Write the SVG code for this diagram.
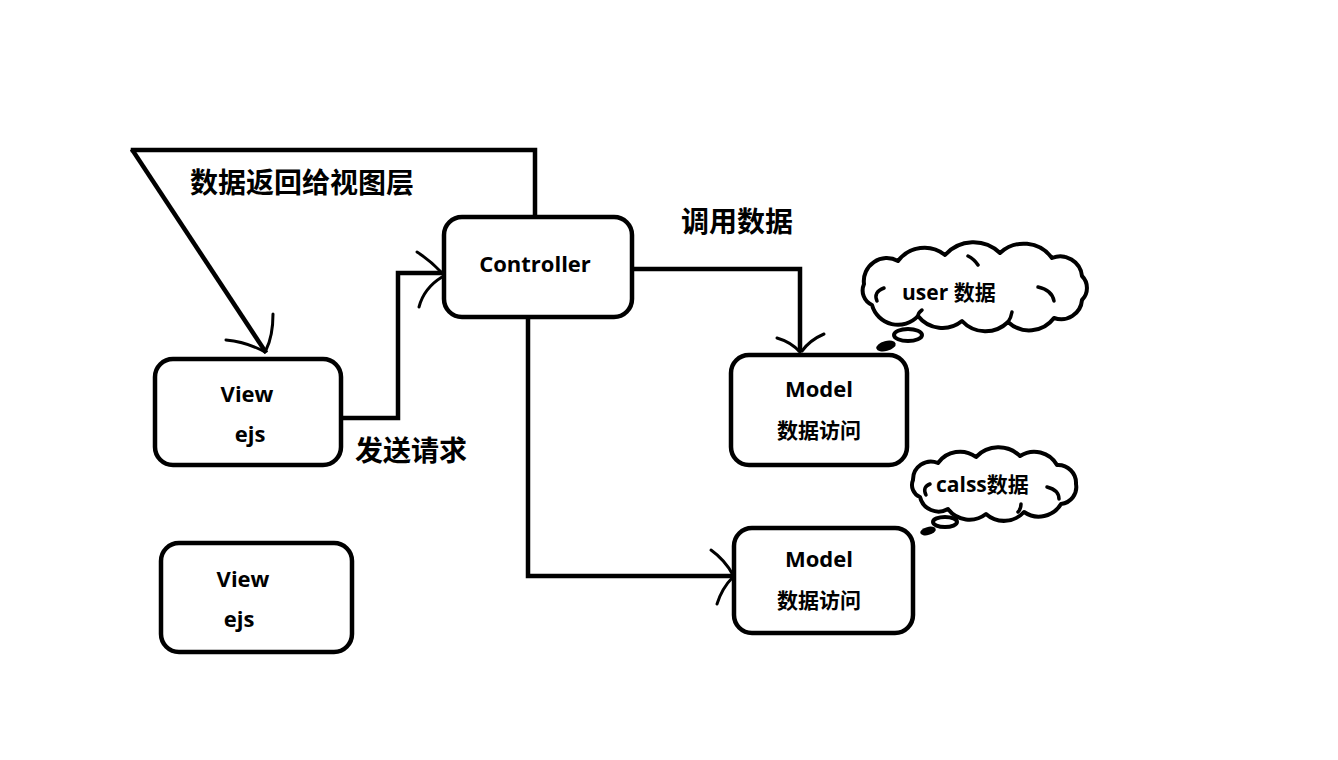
<svg xmlns="http://www.w3.org/2000/svg" width="1338" height="760" viewBox="0 0 1338 760">
<defs>
<style>
.box{fill:#fff;stroke:#000;stroke-width:4.5}
.ln{fill:none;stroke:#000;stroke-width:4.5;stroke-linecap:square;stroke-linejoin:miter}
.ah{fill:none;stroke:#000;stroke-width:3;stroke-linecap:round}
.cl{fill:#fff;stroke:#000;stroke-width:4;stroke-linejoin:round}
.cin{fill:none;stroke:#000;stroke-width:3.5;stroke-linecap:round}
.t{font-family:"Open Sans","Noto Sans CJK SC",sans-serif;font-weight:bold;fill:#000;text-anchor:middle}
.ct{font-family:"Open Sans","Noto Sans CJK SC",sans-serif;font-weight:bold;fill:#000}
.cap{font-family:"Noto Sans CJK SC","Open Sans",sans-serif;font-weight:bold;fill:#000}
</style>
</defs>
<rect width="1338" height="760" fill="#fff"/>
<g id="connectors">
<path class="ln" d="M133,150 L535,150 L535,216"/>
<path class="ln" d="M133,151 L265,351"/>
<path class="ah" d="M226,340 Q247,342 265,352"/>
<path class="ah" d="M273,314 Q273,336 266,350"/>
<path class="ln" d="M343,418 L398,418 L398,273 L442,273"/>
<path class="ah" d="M417,252 Q431,261 442,273"/>
<path class="ah" d="M419,307 Q424,288 442,277"/>
<path class="ln" d="M634,269 L800,269 L800,350"/>
<path class="ah" d="M777,338 Q791,342 800,352"/>
<path class="ah" d="M824,334 Q810,340 802,351"/>
<path class="ln" d="M528,319 L528,576 L731,576"/>
<path class="ah" d="M711,550 Q725,560 733,575"/>
<path class="ah" d="M717,604 Q722,588 733,577"/>
</g>
<g id="controller">
<rect class="box" x="444" y="217" width="188" height="100" rx="18"/>
<text class="t" x="535" y="272" font-size="22">Controller</text>
</g>
<g id="view1">
<rect class="box" x="155" y="359" width="186" height="106" rx="18"/>
<text class="t" x="247" y="402" font-size="22">View</text>
<text class="t" x="250" y="442" font-size="22">ejs</text>
</g>
<g id="view2">
<rect class="box" x="161" y="543" width="191" height="109" rx="18"/>
<text class="t" x="243" y="587" font-size="22">View</text>
<text class="t" x="239" y="627" font-size="22">ejs</text>
</g>
<g id="model1">
<rect class="box" x="731" y="355" width="176" height="110" rx="18"/>
<text class="t" x="819" y="397" font-size="22">Model</text>
<text class="t" x="819" y="438" font-size="21">数据访问</text>
</g>
<g id="model2">
<rect class="box" x="734" y="528" width="179" height="105" rx="18"/>
<text class="t" x="819" y="567" font-size="22">Model</text>
<text class="t" x="819" y="608" font-size="21">数据访问</text>
</g>
<g id="cloud-user">
<path class="cl" d="M864,284 A23,23 0 0 1 898,261 A33,33 0 0 1 945,255 A38,38 0 0 1 1000,253 A35,35 0 0 1 1052,258 A22,22 0 0 1 1082,276 A17,17 0 0 1 1082,300 A21,21 0 0 1 1054,318 A31,31 0 0 1 1008,322 A32,32 0 0 1 962,321 A31,31 0 0 1 918,316 A27,27 0 0 1 872,305 A16,16 0 0 1 864,284 Z"/>
<path class="cin" d="M884,288 Q873,292 877,301"/>
<path class="cin" d="M1038,287 Q1052,290 1054,301"/>
<path class="cin" d="M1012,312 Q1011,318 1008,322"/>
<path class="cin" d="M922,310 Q918,313 918,316"/>
<path class="cin" d="M968,256 Q974,259 978,265"/>
<ellipse class="cl" cx="908" cy="335" rx="14" ry="6"/>
<ellipse cx="886" cy="346" rx="10" ry="5" fill="#000" transform="rotate(-15 886 346)"/>
<text class="ct" x="902" y="300" font-size="21">user 数据</text>
</g>
<g id="cloud-class">
<path class="cl" d="M913,480 A18,18 0 0 1 938,463 A27,27 0 0 1 976,457 A31,31 0 0 1 1020,456 A26,26 0 0 1 1057,465 A18,18 0 0 1 1076,484 A17,17 0 0 1 1061,504 A26,26 0 0 1 1024,512 A27,27 0 0 1 986,514 A27,27 0 0 1 948,509 A19,19 0 0 1 920,497 A13,13 0 0 1 913,480 Z"/>
<path class="cin" d="M930,484 Q922,487 926,495"/>
<path class="cin" d="M1047,487 Q1059,490 1059,499"/>
<path class="cin" d="M1021,504 Q1021,509 1018,512"/>
<ellipse class="cl" cx="945" cy="522" rx="12" ry="5"/>
<ellipse cx="928" cy="531" rx="8" ry="4" fill="#000" transform="rotate(-15 928 531)"/>
<text class="ct" x="936" y="492" font-size="21">calss数据</text>
</g>
<g id="labels">
<text class="cap" x="190" y="193" font-size="28">数据返回给视图层</text>
<text class="cap" x="681" y="232" font-size="28">调用数据</text>
<text class="cap" x="355" y="461" font-size="28">发送请求</text>
</g>
</svg>
